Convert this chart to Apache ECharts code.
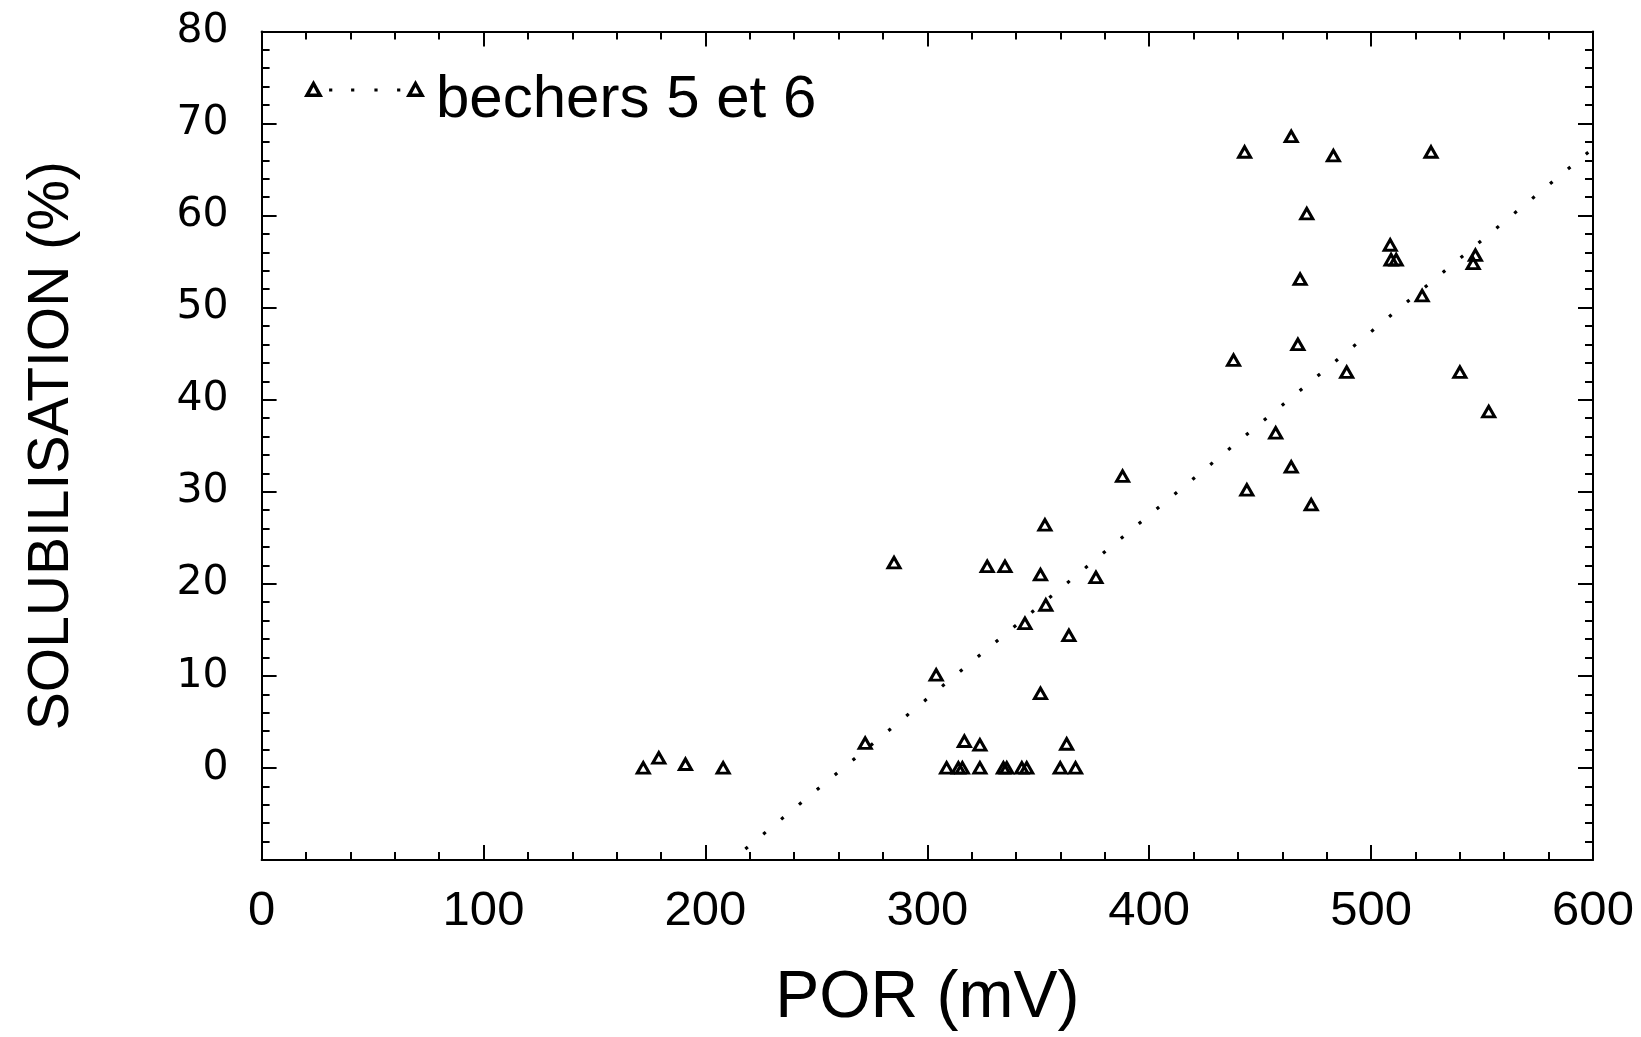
<!DOCTYPE html>
<html>
<head>
<meta charset="utf-8">
<script src="https://cdn.jsdelivr.net/npm/echarts@6/dist/echarts.min.js"></script>
<style>
html,body{margin:0;padding:0;background:#fff;}
#chart{width:1641px;height:1037px;}
</style>
</head>
<body>
<div id="chart"></div>
<script>
// ---- data ----
const seriesName = 'bechers 5 et 6';
const porX = [172,179,191,208,272,285,304,308.7,314,315.8,316.7,323.7,323.7,327,335,334.3,335.8,342.6,344.8,344,351,351,353.4,353,359.9,362.8,363.8,366.8,376,388,438,443,444,457,464,464,467,468,471,473,483,489,508.6,509,511.3,523,527,540,546,547,553];
const solY = [0,1.1,0.4,0,2.7,22.3,10.1,0,0,0,2.9,2.5,0,21.9,21.9,0,0,0,0,15.7,8.1,21.0,17.7,26.4,0,2.6,14.4,0,20.7,31.7,44.3,66.9,30.2,36.4,68.6,32.7,46.0,53.1,60.2,28.6,66.5,43.0,56.8,55.2,55.2,51.3,66.9,43.0,54.8,55.7,38.7];
const trendX = [218, 600];
const trendY = [-8.8, 67.3];
const xTicks = [0,100,200,300,400,500,600];
const yTicks = [-10,0,10,20,30,40,50,60,70,80];
const xName = 'POR (mV)';
const yName = 'SOLUBILISATION (%)';

const points = porX.map((x, i) => [x, solY[i]]);
const trend = trendX.map((x, i) => [x, trendY[i]]);

// legend icon: triangle, dots, triangle (121 wide); a zero-area segment at the
// bottom pushes the icon's centre down so the triangles sit higher than the text centre
function tri(o){
  return 'M'+(o)+' 17 L'+(o+9.5)+' 0 L'+(o+19)+' 17 Z M'+(o+6)+' 13.5 L'+(o+13)+' 13.5 L'+(o+9.5)+' 7 Z ';
}
function dot(x){ return 'M'+x+' 8.4 h3.2 v3.2 h-3.2 Z '; }
const legendIcon = 'path://' + tri(0) + dot(25.1) + dot(47.1) + dot(70.4) + dot(93.1) + tri(102) + 'M60 41 L60.001 41 Z';

const axisLine = {show:true, onZero:false, lineStyle:{color:'#000', width:2}};
const tick = {show:true, inside:true, length:15, lineStyle:{color:'#000', width:2}};
const minor = {show:true, splitNumber:5, length:8, lineStyle:{color:'#000', width:2}};

const chart = echarts.init(document.getElementById('chart'), null, {renderer:'canvas'});
chart.setOption({
  backgroundColor:'#fff',
  animation:false,
  grid:{left:261.6, right:48, top:31.4, bottom:175.7, containLabel:false},
  legend:{
    show:true, left:304, top:70.5, padding:0,
    data:[{name:seriesName, icon:legendIcon}],
    itemWidth:121, itemHeight:41,
    selectedMode:false,
    itemStyle:{color:'#000', borderWidth:0},
    textStyle:{fontFamily:'Liberation Sans, Arial, sans-serif', fontSize:60, color:'#000', padding:[0,0,0,6]}
  },
  xAxis:[{
    type:'value', min:xTicks[0], max:xTicks[xTicks.length-1], interval:100, position:'bottom',
    axisLine:axisLine, axisTick:tick, minorTick:minor, splitLine:{show:false}, minorSplitLine:{show:false},
    axisLabel:{show:true, margin:27, color:'#000', fontFamily:'Liberation Sans, Arial, sans-serif', fontSize:49},
    name:xName, nameLocation:'middle', nameGap:106,
    nameTextStyle:{color:'#000', fontFamily:'Liberation Sans, Arial, sans-serif', fontSize:66}
  },{
    type:'value', min:xTicks[0], max:xTicks[xTicks.length-1], interval:100, position:'top',
    axisLine:axisLine, axisTick:tick, minorTick:minor, splitLine:{show:false},
    axisLabel:{show:false}
  }],
  yAxis:[{
    type:'value', min:yTicks[0], max:yTicks[yTicks.length-1], interval:10, position:'left',
    axisLine:axisLine, axisTick:tick, minorTick:minor, splitLine:{show:false}, minorSplitLine:{show:false},
    axisLabel:{show:true, margin:33, color:'#000', fontFamily:'DejaVu Sans, sans-serif', fontSize:41,
      formatter:function(v){ return v === yTicks[0] ? '' : String(v); }},
    name:yName, nameLocation:'middle', nameGap:181, nameRotate:90,
    nameTextStyle:{color:'#000', fontFamily:'Liberation Sans, Arial, sans-serif', fontSize:57}
  },{
    type:'value', min:yTicks[0], max:yTicks[yTicks.length-1], interval:10, position:'right',
    axisLine:axisLine, axisTick:tick, minorTick:minor, splitLine:{show:false},
    axisLabel:{show:false}
  }],
  series:[{
    name:seriesName, type:'scatter', xAxisIndex:0, yAxisIndex:0,
    data:points, symbol:'triangle', symbolSize:[12,10.5],
    itemStyle:{color:'rgba(255,255,255,0)', borderColor:'#000', borderWidth:3, opacity:1},
    emphasis:{disabled:true}, z:3
  },{
    name:'trend', type:'line', xAxisIndex:0, yAxisIndex:0,
    data:trend, showSymbol:false, symbol:'none', clip:true,
    lineStyle:{color:'#000', width:3.2, type:[3.2,20]},
    emphasis:{disabled:true}, z:2
  }]
});
</script>
</body>
</html>
